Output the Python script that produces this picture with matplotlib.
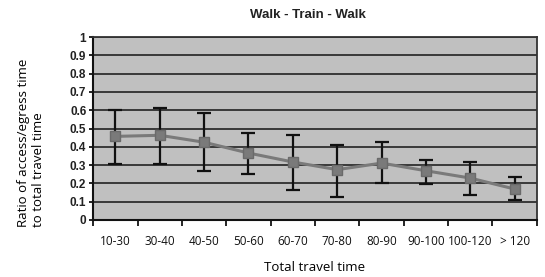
import matplotlib
matplotlib.use("Agg")
import matplotlib.pyplot as plt
import numpy as np

# ── Data ──
categories = ["10-30", "30-40", "40-50", "50-60", "60-70", "70-80",
              "80-90", "90-100", "100-120", "> 120"]
ratio_mean = [0.457, 0.463, 0.425, 0.366, 0.317, 0.275, 0.311, 0.269, 0.229, 0.169]
ratio_upper = [0.600, 0.613, 0.586, 0.476, 0.467, 0.412, 0.427, 0.330, 0.317, 0.235]
ratio_lower = [0.307, 0.307, 0.265, 0.251, 0.165, 0.128, 0.200, 0.198, 0.134, 0.110]
y_ticks = [0, 0.1, 0.2, 0.3, 0.4, 0.5, 0.6, 0.7, 0.8, 0.9, 1]

fig = plt.figure(figsize=(5.45, 2.77), dpi=100)
ax = fig.add_axes([0.171, 0.206, 0.814, 0.66])
ax.set_facecolor("#c0c0c0")

x = np.arange(len(categories))
mean = np.array(ratio_mean)
yerr = [mean - np.array(ratio_lower), np.array(ratio_upper) - mean]

ax.errorbar(x, mean, yerr=yerr, fmt="none", ecolor="#111111",
            elinewidth=1.6, capsize=5, capthick=1.6, zorder=3)
ax.plot(x, mean, color="#7a7a7a", linewidth=2.2, marker="s",
        markersize=7.5, markerfacecolor="#7a7a7a", markeredgecolor="#6a6a6a",
        zorder=4)

ax.set_xlim(-0.5, len(categories) - 0.5)
ax.set_ylim(0, 1)
ax.set_yticks(y_ticks)
ax.set_yticklabels([f"{t:g}" for t in y_ticks], fontsize=8.5,
                   fontweight="bold", family="Liberation Sans", color="#222222")
ax.yaxis.grid(True, color="#222222", linewidth=1.2)
ax.set_axisbelow(True)

# category ticks at band boundaries, labels at band centres
ax.set_xticks(np.arange(len(categories) + 1) - 0.5)
ax.set_xticklabels([])
ax.set_xticks(x, minor=True)
ax.set_xticklabels(categories, minor=True, fontsize=8.5, family="Open Sans",
                   color="#111111")
ax.tick_params(axis="x", which="minor", length=0, pad=11)
ax.tick_params(axis="x", which="major", length=4, width=1.2, direction="out")
ax.tick_params(axis="y", length=3, width=1.2, pad=2)

for side in ["left", "bottom"]:
    ax.spines[side].set_color("#111111")
    ax.spines[side].set_linewidth(1.5)
for side in ["top", "right"]:
    ax.spines[side].set_color("#333333")
    ax.spines[side].set_linewidth(1.3)

ax.set_title("Walk - Train - Walk", fontsize=9.5, fontweight="bold",
             family="Liberation Sans", color="#222222", pad=14, x=0.485)
ax.set_xlabel("Total travel time", fontsize=9.5, family="Open Sans", labelpad=9)

# y label: two lines left-aligned (bottom-aligned once rotated)
fig.text(0.057, 0.18, "Ratio of access/egress time\nto total travel time",
         rotation=90, ha="center", va="bottom", multialignment="left",
         fontsize=9.5, family="Open Sans", linespacing=1.25)

fig.savefig("out.png", dpi=100, facecolor="white")
